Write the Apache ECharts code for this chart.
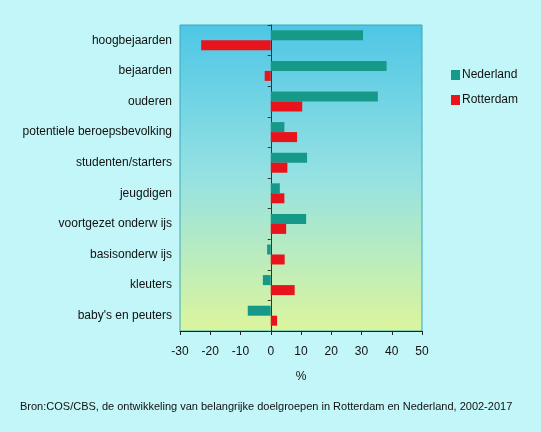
<!DOCTYPE html>
<html><head><meta charset="utf-8">
<script src="https://cdn.jsdelivr.net/npm/echarts@6/dist/echarts.min.js"></script>
<style>html,body{margin:0;padding:0;background:#c2f6f8;}#c{width:541px;height:432px;}</style>
</head><body><div id="c"></div>
<script>
const categories = ["hoogbejaarden","bejaarden","ouderen","potentiele beroepsbevolking","studenten/starters","jeugdigen","voortgezet onderw ijs","basisonderw ijs","kleuters","baby's en peuters"];
const nederland = [30.5, 38.3, 35.4, 4.5, 12, 3, 11.7, -1.2, -2.6, -7.6];
const rotterdam = [-23, -2, 10.4, 8.7, 5.5, 4.5, 5.1, 4.6, 7.9, 2.1];
const xTicks = [-30, 50, 10];
const source = "Bron:COS/CBS, de ontwikkeling van belangrijke doelgroepen in Rotterdam en Nederland, 2002-2017";

const chart = echarts.init(document.getElementById('c'));
const font = 'Liberation Sans, Arial, sans-serif';
chart.setOption({
  backgroundColor: '#c2f6f8',
  animation: false,
  textStyle: {fontFamily: font},
  grid: {left: 180, right: 119, top: 25, bottom: 101, show: true, borderColor: '#3aa8b8', borderWidth: 1,
    backgroundColor: new echarts.graphic.LinearGradient(0,0,0,1,[
      {offset:0,color:'#4ec6e6'},{offset:0.5,color:'#96e2e2'},{offset:1,color:'#dcf59c'}])},
  legend: {orient: 'vertical', left: 446, top: 64, itemWidth: 9, itemHeight: 10, itemGap: 13,
    icon: 'rect', textStyle: {fontSize: 12, color: '#111', fontFamily: font, padding:[0,0,0,-3]},
    data: ['Nederland','Rotterdam']},
  xAxis: {type: 'value', min: xTicks[0], max: xTicks[1], interval: xTicks[2],
    name: '%', nameLocation: 'middle', nameGap: 40, nameTextStyle: {fontSize: 12, color: '#111'},
    axisLine: {show: true, onZero: false, lineStyle: {color: '#222'}},
    axisTick: {show: true, length: 4, lineStyle: {color: '#222'}},
    axisLabel: {fontSize: 12, color: '#111', margin: 15},
    splitLine: {show: false}},
  yAxis: [
    {type: 'category', data: categories, inverse: true,
     axisLine: {show: false, onZero: false}, axisTick: {show: false},
     axisLabel: {fontSize: 12, color: '#111', margin: 8}},
    {type: 'category', data: categories, inverse: true, position: 'left',
     axisLine: {show: true, onZero: true, lineStyle: {color: '#333'}},
     axisTick: {show: true, length: 3, lineStyle: {color: '#333'}},
     axisLabel: {show: false}}
  ],
  series: [
    {name: 'Nederland', type: 'bar', data: nederland, itemStyle: {color: '#17998a'}, barWidth: 10, barGap: '0%', barCategoryGap: '32%'},
    {name: 'Rotterdam', type: 'bar', data: rotterdam, itemStyle: {color: '#e8131b'}, barWidth: 10}
  ],
  graphic: [{type: 'text', left: 20, top: 401, style: {text: source, font: '11px ' + font, fill: '#111'}}]
});
</script></body></html>
